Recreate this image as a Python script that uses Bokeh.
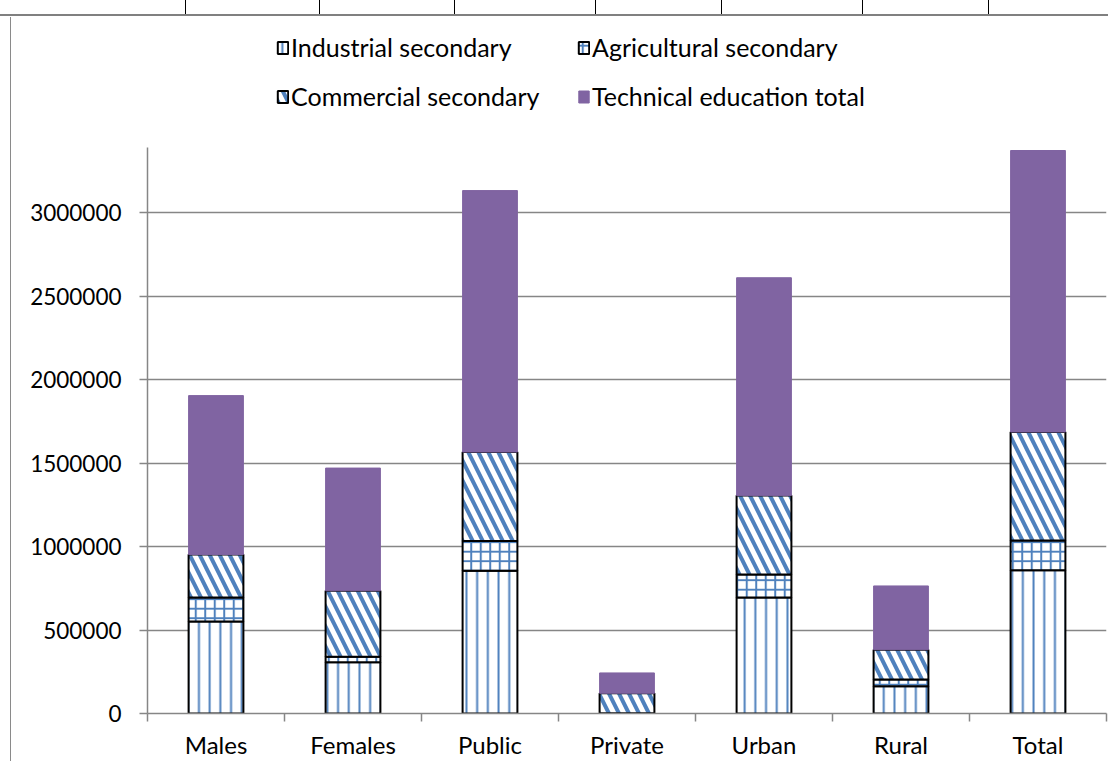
import numpy as np
from bokeh.plotting import figure
from bokeh.layouts import column
from bokeh.models import (FixedTicker, Legend, LegendItem, BasicTickFormatter, Range1d,
                          InlineStyleSheet)
from bokeh.embed import file_html
from bokeh.resources import INLINE

# ---- data ----
categories = ["Males", "Females", "Public", "Private", "Urban", "Rural", "Total"]
industrial = [551000, 307000, 855000, 2000, 695000, 163000, 858000]
agricultural = [144000, 33000, 178000, 0, 137000, 40000, 178000]
commercial = [257000, 395000, 533000, 119000, 473000, 179000, 650000]
technical_total = [952000, 735000, 1566000, 122000, 1305000, 382000, 1686000]
series_names = ["Industrial secondary", "Agricultural secondary",
                "Commercial secondary", "Technical education total"]
y_ticks = [0, 500000, 1000000, 1500000, 2000000, 2500000, 3000000]
y_max = 3390000

FONT = "Lato"
GRID = "#868686"
BLUE = "#4F81BD"
PURPLE = "#8064A2"

styles = [
    dict(fill_color="white", hatch_pattern="|", hatch_color=BLUE, hatch_weight=2,
         hatch_scale=10.7, line_color="black", line_width=2),
    dict(fill_color="white", hatch_pattern="+", hatch_color=BLUE, hatch_weight=2,
         hatch_scale=9.5, line_color="black", line_width=2),
    dict(fill_color="white", hatch_pattern="\\", hatch_color=BLUE, hatch_weight=4,
         hatch_scale=20, line_color="black", line_width=2),
    dict(fill_color=PURPLE, line_color=PURPLE, line_width=1),
]

x = np.arange(len(categories)) + 0.5
series = [np.array(industrial), np.array(agricultural),
          np.array(commercial), np.array(technical_total)]
bottoms = np.cumsum([np.zeros(len(categories))] + series[:-1], axis=0)

# document frame around the chart (page decoration, not data)
frame_css_main = """
:host::after { content: ""; position: absolute; left: 10px; top: 0; bottom: 0;
  border-left: 1px solid #8a8a8a; z-index: 10; pointer-events: none; }
"""
cells = [185, 319, 454, 595, 721, 862, 988]
grads = ", ".join(["linear-gradient(#000,#000)"] * (len(cells) + 1))
sizes = ", ".join(["1px 16px"] * len(cells) + ["11px 2px"])
poss = ", ".join([f"{c}px 0" for c in cells] + ["0 14px"])
frame_css_top = f"""
:host::before {{ content: ""; position: absolute; left: 0; top: 0; width: 100%; height: 16px;
  border-bottom: 2px solid #808080; background-image: {grads};
  background-size: {sizes}; background-repeat: no-repeat; background-position: {poss};
  z-index: 10; pointer-events: none; }}
:host::after {{ content: ""; position: absolute; left: 10px; top: 17px; bottom: 0;
  border-left: 1px solid #8a8a8a; z-index: 10; pointer-events: none; }}
"""

# ---------- main chart ----------
p = figure(width=1108, height=614, output_backend="svg", toolbar_location=None,
           x_range=Range1d(0, len(categories)), y_range=Range1d(0, y_max),
           min_border_left=147, min_border_right=2, min_border_top=0,
           min_border_bottom=47)
p.outline_line_color = None
p.background_fill_color = "white"
p.border_fill_color = "white"
p.stylesheets = [InlineStyleSheet(css=frame_css_main)]

for vals, bot, st in zip(series, bottoms, styles):
    p.vbar(x=x, bottom=bot, top=bot + vals, width=0.4, **st)

xt = FixedTicker(ticks=list(x), minor_ticks=list(range(len(categories) + 1)))
p.xaxis.ticker = xt
p.xaxis.major_label_overrides = {float(v): c for v, c in zip(x, categories)}
p.xaxis.major_tick_line_color = None
p.xaxis.minor_tick_line_color = GRID
p.xaxis.minor_tick_line_width = 1.5
p.xaxis.minor_tick_out = 8
p.xaxis.minor_tick_in = 0
p.xaxis.axis_line_color = GRID
p.xaxis.axis_line_width = 1.5
p.xaxis.major_label_text_font = FONT
p.xaxis.major_label_text_font_size = "24px"
p.xaxis.major_label_text_color = "black"
p.xaxis.major_label_standoff = 8

p.yaxis.ticker = FixedTicker(ticks=y_ticks, minor_ticks=[])
p.yaxis.formatter = BasicTickFormatter(use_scientific=False)
p.yaxis.major_tick_line_color = GRID
p.yaxis.major_tick_line_width = 1.5
p.yaxis.major_tick_out = 8
p.yaxis.major_tick_in = 0
p.yaxis.minor_tick_line_color = None
p.yaxis.axis_line_color = GRID
p.yaxis.axis_line_width = 1.5
p.yaxis.major_label_text_font = FONT
p.yaxis.major_label_text_font_size = "22.5px"
p.yaxis.major_label_text_color = "black"
p.yaxis.major_label_standoff = 18

p.xgrid.grid_line_color = None
p.ygrid.ticker = FixedTicker(ticks=y_ticks)
p.ygrid.grid_line_color = GRID
p.ygrid.grid_line_width = 1.5

# ---------- legend strip (same styles; hidden copies of the series) ----------
lg = figure(width=1108, height=147, output_backend="svg", toolbar_location=None,
            x_range=Range1d(0, 1), y_range=Range1d(0, 1),
            min_border_left=0, min_border_right=0, min_border_top=0,
            min_border_bottom=0)
lg.axis.visible = False
lg.grid.visible = False
lg.outline_line_color = None
lg.border_fill_color = "white"
lg.stylesheets = [InlineStyleSheet(css=frame_css_top)]
proxies = []
for vals, bot, st in zip(series, bottoms, styles):
    r = lg.vbar(x=x, bottom=bot, top=bot + vals, width=0.4, **st)
    r.visible = False
    proxies.append(r)

order = [0, 2, 1, 3]  # legend fills column by column
items = [LegendItem(label=series_names[i], renderers=[proxies[i]]) for i in order]
legend = Legend(items=items, ncols=2, location=(129, 36),
                label_text_font=FONT, label_text_font_size="25px",
                label_text_color="black",
                glyph_width=13, glyph_height=15, label_standoff=2,
                label_width=267, spacing=19, padding=0, margin=0,
                inactive_fill_alpha=0,
                border_line_color=None, background_fill_alpha=0)
lg.add_layout(legend, "center")

layout = column(lg, p, spacing=0)
open("out.html", "w").write(file_html(layout, INLINE))
